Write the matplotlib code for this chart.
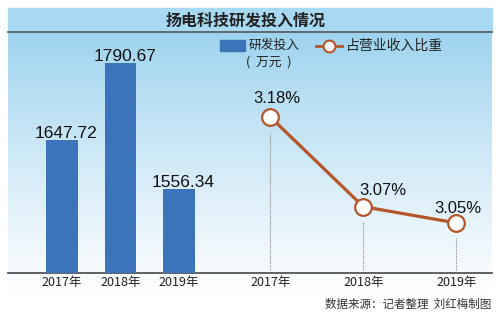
import numpy as np
import matplotlib
matplotlib.use("Agg")
import matplotlib.pyplot as plt
from matplotlib.colors import to_rgb
from matplotlib.patches import Rectangle

plt.rcParams['font.family'] = ['Noto Sans CJK SC', 'DejaVu Sans']

title = "扬电科技研发投入情况"
years = ["2017年", "2018年", "2019年"]
rd_spend = [1647.72, 1790.67, 1556.34]       # 万元
rd_ratio = [3.18, 3.07, 3.05]                # %
rd_ratio_labels = ["3.18%", "3.07%", "3.05%"]
source = "数据来源：记者整理  刘红梅制图"

bar_color = "#3c74b9"
line_color = "#b5552a"
num_font = ['Liberation Sans', 'DejaVu Sans']

W, H = 499, 322
fig = plt.figure(figsize=(W / 100, H / 100), dpi=100)
fig.patch.set_facecolor("white")

# background panel in pixel coordinates
bg = fig.add_axes([0, 0, 1, 1], zorder=0)
bg.set_xlim(0, W)
bg.set_ylim(H, 0)
bg.axis("off")

top_c = np.array(to_rgb("#9dd3ef"))
bot_c = np.array(to_rgb("#ffffff"))
t = np.linspace(0, 1, 200) ** 0.9
grad = (top_c[None, :] * (1 - t[:, None]) + bot_c[None, :] * t[:, None])[:, None, :]
bg.imshow(grad, extent=(8, 492, 296, 32), origin="upper", aspect="auto", zorder=0)
bg.add_patch(Rectangle((8, 8), 484, 24, color="#a7d9f2", zorder=1))
bg.set_xlim(0, W)
bg.set_ylim(H, 0)

bg.plot([8, 492], [32, 32], color="#555555", lw=1.2, zorder=2)
bg.plot([8, 492], [273, 273], color="#555555", lw=1.3, zorder=2)
bg.text(246, 20, title, ha="center", va="center", fontsize=11.5,
        fontweight="bold", color="#222222", zorder=3)
bg.text(491, 304, source, ha="right", va="center", fontsize=8.3, color="#333333")

# legend, drawn by hand
bg.add_patch(Rectangle((220, 40), 25, 11, color=bar_color, zorder=3))
bg.text(249, 45.5, "研发投入", ha="left", va="center", fontsize=9.2, color="#222222")
bg.text(269, 62, "(  万元  )", ha="center", va="center", fontsize=9.2, color="#222222")
bg.plot([316, 342], [46, 46], color=line_color, lw=2, zorder=3)
bg.plot([329], [46], "o", ms=8.5, mfc="white", mec=line_color, mew=1.5, zorder=4)
bg.text(346, 46, "占营业收入比重", ha="left", va="center", fontsize=10, color="#222222")

y0, y1 = (H - 273) / H, 240 / H

# bar chart
ax1 = fig.add_axes([32.75 / W, y0, 175.5 / W, y1], zorder=2)
ax1.patch.set_alpha(0)
x = np.arange(len(years))
ax1.bar(x, rd_spend, width=0.53, color=bar_color)
ax1.set_xlim(-0.5, 2.5)
ax1.set_ylim(1400.8, 1846.3)
for xi, v in zip(x, rd_spend):
    ax1.annotate(f"{v:.2f}", (xi, v), xytext=(3, 1.6), textcoords="offset points",
                 ha="center", va="baseline", fontsize=12.5, family=num_font,
                 color="#111111")

# line chart
ax2 = fig.add_axes([223.8 / W, y0, 265 / W, y1], zorder=2)
ax2.patch.set_alpha(0)
ax2.set_xlim(-0.5, 2.35)
ax2.set_ylim(2.9886, 3.283)
ax2.vlines(x, 2.992, np.array(rd_ratio) - 0.019, colors="#8a8a8a",
           linestyles=(0, (1, 1)), lw=0.8)
ax2.plot(x, rd_ratio, color=line_color, lw=2.3, marker="o", ms=12,
         mfc="white", mec=line_color, mew=1.6, zorder=3)
offsets = [(5, 10), (14, 8.6), (1, 7)]
for xi, v, lab, off in zip(x, rd_ratio, rd_ratio_labels, offsets):
    ax2.annotate(lab, (xi, v), xytext=off, textcoords="offset points",
                 ha="center", va="baseline", fontsize=12, family=num_font,
                 color="#111111")

for ax in (ax1, ax2):
    for s in ax.spines.values():
        s.set_visible(False)
    ax.set_yticks([])
    ax.set_xticks(x)
    ax.set_xticklabels(years)
    ax.tick_params(axis="x", length=0, pad=2.5, labelsize=9, labelcolor="#222222")

fig.savefig("out.png", dpi=100)
